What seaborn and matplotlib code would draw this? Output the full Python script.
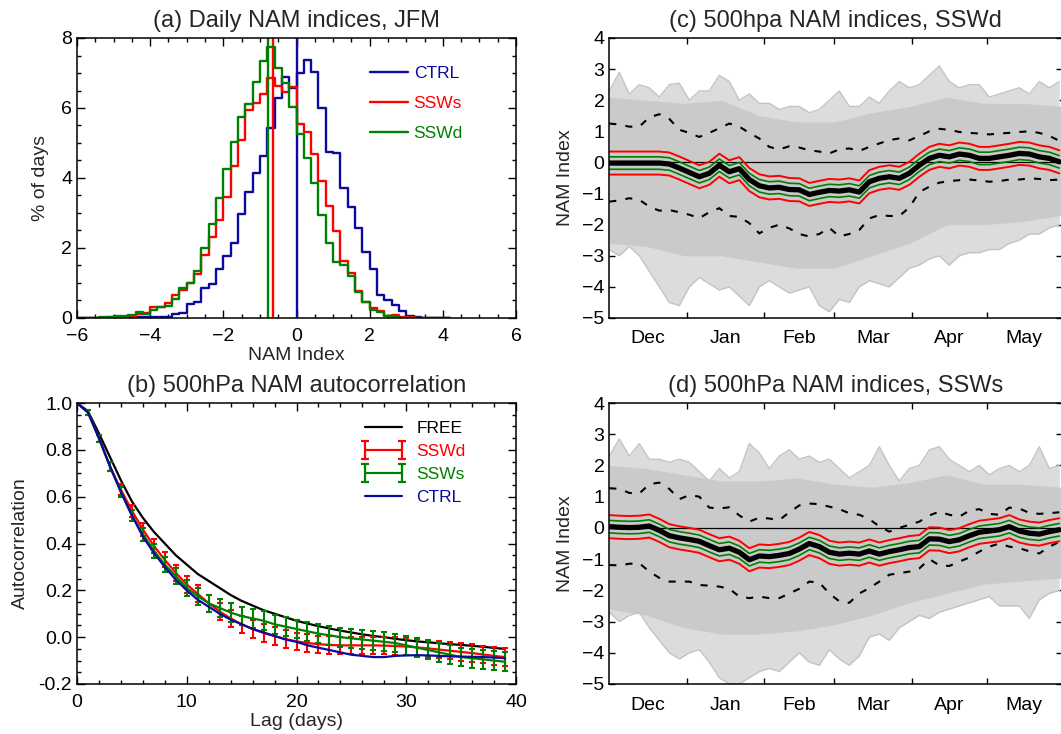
import numpy as np
import matplotlib
matplotlib.use("Agg")
import matplotlib.pyplot as plt
from matplotlib.path import Path
from matplotlib.lines import Line2D
from matplotlib.ticker import MultipleLocator
import seaborn as sns


# (a) histogram of daily NAM index, JFM, % of days per 0.2 bin (-6.0 .. 4.2)
bin_edges = [round(v, 1) for v in np.linspace(-6.0, 4.2, 52)]
ctrl_hist = [0, 0, 0, 0, 0, 0, 0, 0.01, 0.02, 0.02,
             0.03, 0.03, 0.04, 0.11, 0.14, 0.4, 0.45, 0.85, 0.98, 1.4,
             1.76, 2.14, 2.97, 3.6, 4.13, 4.63, 5.42, 6.3, 6.9, 6.58,
             7.0, 7.36, 7.03, 6.0, 4.75, 4.7, 3.7, 3.18, 2.57, 1.88,
             1.4, 0.67, 0.52, 0.38, 0.19, 0.07, 0.02, 0.01, 0, 0,
             0]
ssws_hist = [0, 0, 0.01, 0.01, 0.02, 0.02, 0.03, 0.05, 0.1, 0.15,
             0.3, 0.3, 0.42, 0.65, 0.8, 1.0, 1.25, 1.8, 2.3, 2.8,
             3.47, 4.35, 5.1, 5.94, 6.13, 6.4, 6.87, 6.62, 6.46, 6.6,
             5.54, 5.31, 4.68, 3.9, 3.2, 2.49, 1.64, 1.28, 0.78, 0.46,
             0.3, 0.2, 0.05, 0.1, 0.02, 0.02, 0.01, 0, 0, 0,
             0]
sswd_hist = [0, 0, 0.01, 0.02, 0.03, 0.05, 0.07, 0.08, 0.17, 0.12,
             0.22, 0.3, 0.35, 0.55, 0.87, 1.0, 1.35, 2.0, 2.68, 3.43,
             4.25, 5.02, 5.74, 6.1, 6.75, 7.33, 7.74, 7.15, 6.72, 6.02,
             5.25, 4.57, 3.85, 2.95, 2.15, 1.6, 1.5, 1.2, 0.75, 0.45,
             0.22, 0.18, 0.05, 0.03, 0.01, 0.01, 0.01, 0.01, 0.01, 0.01,
             0]
hist_means = {"CTRL": 0.0, "SSWs": -0.63, "SSWd": -0.79}

# (b) 500hPa NAM autocorrelation, lags 0..39 days
lags = list(range(40))
free_acf = [1.0, 0.965, 0.87, 0.77, 0.67, 0.58, 0.51, 0.45, 0.40, 0.35,
            0.31, 0.27, 0.24, 0.21, 0.18, 0.155, 0.135, 0.115, 0.10, 0.085,
            0.07, 0.058, 0.047, 0.037, 0.028, 0.02, 0.012, 0.005, 0.0, -0.007,
            -0.013, -0.018, -0.022, -0.026, -0.03, -0.033, -0.037, -0.041, -0.046, -0.05]
ctrl_acf = [1.0, 0.96, 0.85, 0.73, 0.62, 0.52, 0.43, 0.36, 0.30, 0.245,
            0.20, 0.16, 0.13, 0.10, 0.075, 0.055, 0.035, 0.02, 0.005, -0.01,
            -0.02, -0.035, -0.045, -0.055, -0.065, -0.075, -0.08, -0.085, -0.085, -0.08,
            -0.078, -0.077, -0.078, -0.08, -0.082, -0.083, -0.084, -0.085, -0.087, -0.09]
sswd_acf = [1.0, 0.96, 0.85, 0.73, 0.63, 0.54, 0.46, 0.39, 0.33, 0.275,
            0.225, 0.185, 0.145, 0.11, 0.08, 0.055, 0.035, 0.018, 0.005, -0.008,
            -0.018, -0.025, -0.03, -0.033, -0.035, -0.035, -0.035, -0.035, -0.036, -0.038,
            -0.04, -0.044, -0.048, -0.053, -0.058, -0.063, -0.068, -0.074, -0.08, -0.085]
ssws_acf = [1.0, 0.96, 0.85, 0.73, 0.62, 0.52, 0.44, 0.37, 0.31, 0.26,
            0.21, 0.175, 0.145, 0.125, 0.105, 0.09, 0.08, 0.07, 0.055, 0.045,
            0.035, 0.025, 0.015, 0.008, 0.0, -0.005, -0.01, -0.015, -0.02, -0.025,
            -0.035, -0.045, -0.055, -0.065, -0.075, -0.085, -0.09, -0.095, -0.1, -0.105]
sswd_err = [0.01, 0.015, 0.02, 0.022, 0.025, 0.028, 0.03, 0.032, 0.034, 0.035,
            0.036, 0.036, 0.037, 0.037, 0.037, 0.037, 0.037, 0.037, 0.037, 0.037,
            0.037, 0.037, 0.037, 0.037, 0.037, 0.037, 0.037, 0.037, 0.037, 0.037,
            0.037, 0.037, 0.037, 0.037, 0.037, 0.037, 0.037, 0.037, 0.037]
ssws_err = [0.01, 0.015, 0.02, 0.022, 0.025, 0.028, 0.03, 0.032, 0.034, 0.035,
            0.036, 0.037, 0.038, 0.039, 0.04, 0.04, 0.04, 0.04, 0.04, 0.04,
            0.04, 0.04, 0.04, 0.04, 0.04, 0.04, 0.04, 0.04, 0.04, 0.04,
            0.04, 0.04, 0.04, 0.04, 0.04, 0.04, 0.04, 0.04, 0.04]

# (c)/(d) NAM index through the season, days after 1 Dec, every 4 days
days = list(range(0, 181, 4))
days_coarse = [0, 15, 30, 45, 60, 75, 90, 105, 120, 135, 150, 165, 181]
month_starts = [31, 62, 90, 121, 151]
month_mids = [15.5, 46.5, 76, 105.5, 136, 166]
month_names = ["Dec", "Jan", "Feb", "Mar", "Apr", "May"]
ci95_half = 0.37
ci68_half = 0.2

mean_c = [-0.02, -0.02, -0.02, -0.02, -0.02, -0.02, -0.05, -0.18, -0.32, -0.46,
          -0.35, -0.09, -0.3, -0.2, -0.55, -0.75, -0.82, -0.8, -0.87, -0.88,
          -1.03, -0.96, -0.9, -0.92, -0.88, -0.95, -0.62, -0.51, -0.46, -0.51,
          -0.35, -0.09, 0.13, 0.23, 0.18, 0.27, 0.23, 0.13, 0.13, 0.18,
          0.23, 0.29, 0.27, 0.18, 0.13, 0.02]
upper_c = [1.25, 1.22, 1.15, 1.15, 1.45, 1.55, 1.4, 1.05, 0.95, 0.82,
           0.95, 1.1, 1.25, 1.15, 0.95, 0.77, 0.5, 0.42, 0.52, 0.48,
           0.39, 0.35, 0.29, 0.42, 0.45, 0.37, 0.5, 0.61, 0.72, 0.77,
           0.71, 0.85, 1.0, 1.08, 1.05, 0.98, 0.95, 0.93, 0.9, 0.93,
           0.95, 0.98, 1.0, 0.95, 0.85, 0.7]
lower_c = [-1.26, -1.22, -1.15, -1.2, -1.42, -1.55, -1.53, -1.6, -1.68, -1.79,
           -1.6, -1.47, -1.72, -1.75, -1.95, -2.28, -2.1, -2.0, -2.12, -2.3,
           -2.38, -2.3, -2.1, -2.38, -2.3, -2.17, -1.8, -1.69, -1.72, -1.72,
           -1.45, -0.95, -0.78, -0.65, -0.6, -0.57, -0.55, -0.58, -0.62, -0.6,
           -0.55, -0.55, -0.51, -0.53, -0.57, -0.55]
outer_top_c = [2.3, 2.9, 2.2, 2.5, 2.4, 2.1, 2.5, 2.55, 2.0, 2.3,
               2.3, 2.8, 2.6, 2.0, 2.2, 1.9, 1.9, 1.7, 1.8, 1.8,
               1.6, 1.7, 2.0, 2.3, 1.8, 1.8, 2.1, 1.9, 2.3, 2.6,
               2.4, 2.5, 2.8, 3.1, 2.6, 2.4, 2.5, 2.5, 2.1, 2.2,
               2.3, 2.4, 2.2, 2.6, 2.4, 2.6]
outer_bot_c = [-2.8, -3.0, -2.7, -3.0, -3.5, -4.0, -4.5, -4.6, -4.0, -3.7,
               -3.9, -4.1, -4.0, -4.3, -4.6, -4.0, -3.8, -4.0, -4.2, -4.1,
               -4.0, -4.6, -4.8, -4.4, -4.5, -4.0, -3.8, -3.9, -4.0, -3.7,
               -3.4, -3.3, -3.1, -3.0, -3.3, -3.0, -2.9, -2.9, -2.8, -2.8,
               -2.6, -2.5, -2.3, -2.3, -2.1, -2.0]
bulk_top_c = [2.1, 2.0, 1.9, 2.0, 1.5, 1.3, 1.3, 1.6, 1.8, 2.1, 1.9, 1.9, 1.8]
bulk_bot_c = [-2.6, -2.7, -3.0, -3.0, -3.2, -3.4, -3.4, -3.0, -2.6, -2.0, -2.0, -1.9, -1.7]

mean_d = [0.04, 0.02, 0.01, 0.02, 0.06, -0.08, -0.25, -0.32, -0.37, -0.43,
          -0.57, -0.7, -0.65, -0.78, -1.02, -0.9, -0.92, -0.88, -0.82, -0.68,
          -0.5, -0.6, -0.78, -0.84, -0.81, -0.84, -0.74, -0.84, -0.76, -0.7,
          -0.63, -0.6, -0.35, -0.36, -0.44, -0.38, -0.25, -0.14, -0.1, -0.06,
          0.04, -0.1, -0.17, -0.2, -0.12, -0.06]
upper_d = [1.27, 1.25, 1.12, 1.1, 1.4, 1.45, 1.25, 0.92, 1.05, 1.0,
           0.65, 0.62, 0.66, 0.4, 0.2, 0.33, 0.3, 0.25, 0.5, 0.72,
           0.78, 0.76, 0.68, 0.6, 0.47, 0.42, 0.28, 0.05, -0.12, 0.0,
           0.1, 0.2, 0.4, 0.52, 0.42, 0.36, 0.55, 0.6, 0.45, 0.42,
           0.65, 0.62, 0.48, 0.45, 0.47, 0.5]
lower_d = [-1.19, -1.2, -1.15, -1.13, -1.4, -1.6, -1.72, -1.72, -1.72, -1.83,
           -1.85, -1.88, -1.95, -2.2, -2.25, -2.2, -2.25, -2.25, -2.1, -1.95,
           -1.72, -1.75, -2.1, -2.35, -2.4, -2.1, -1.93, -1.72, -1.5, -1.45,
           -1.4, -1.3, -1.0, -1.2, -1.22, -1.08, -0.95, -0.76, -0.6, -0.5,
           -0.6, -0.65, -0.75, -0.82, -0.6, -0.45]
outer_top_d = [2.3, 2.85, 2.3, 2.7, 2.2, 2.2, 2.1, 2.2, 2.1, 1.8,
               1.5, 1.9, 1.6, 1.8, 2.7, 2.4, 1.9, 2.3, 2.5, 2.2,
               2.3, 2.1, 2.2, 1.9, 1.6, 1.8, 2.0, 2.6, 2.0, 1.5,
               1.9, 2.0, 2.5, 2.6, 2.2, 2.0, 1.8, 2.0, 1.7, 1.9,
               2.0, 1.8, 2.0, 2.6, 1.9, 2.0]
outer_bot_d = [-2.7, -3.0, -2.8, -2.7, -3.2, -3.6, -4.0, -4.2, -4.0, -3.9,
               -4.3, -4.8, -5.0, -5.0, -4.8, -4.6, -4.5, -4.6, -4.3, -4.0,
               -4.3, -4.4, -3.9, -4.2, -4.4, -4.1, -3.5, -3.4, -3.6, -3.2,
               -3.0, -2.8, -2.9, -2.7, -2.6, -2.5, -2.4, -2.3, -2.2, -2.5,
               -2.5, -2.5, -2.9, -2.3, -2.1, -2.0]
bulk_top_d = [2.0, 1.9, 1.7, 1.5, 1.5, 1.6, 1.4, 1.3, 1.45, 1.7, 1.4, 1.4, 1.3]
bulk_bot_d = [-2.6, -2.8, -3.2, -3.4, -3.4, -3.3, -3.1, -2.8, -2.4, -2.1, -1.8, -1.7, -1.6]


BLUE = "#0a0aa0"
RED = "#ff0000"
GREEN = "#008000"
GREY = "#c4c4c4"

sns.set_theme(style="ticks")
plt.rcParams["font.family"] = ["Liberation Sans", "DejaVu Sans"]
plt.rcParams["axes.linewidth"] = 1.1

TITLE_FS = 17
LABEL_FS = 14
LEG_FS = 12.5

W, H = 1061, 734
fig = plt.figure(figsize=(W / 100, H / 100), dpi=100)
ax_a = fig.add_axes([77 / W, (H - 318) / H, 439 / W, 280 / H])
ax_b = fig.add_axes([77 / W, (H - 684) / H, 439 / W, 281 / H])
ax_c = fig.add_axes([609.3 / W, (H - 318) / H, 452.5 / W, 280 / H])
ax_d = fig.add_axes([609.3 / W, (H - 684) / H, 452.5 / W, 281 / H])


def box_ticks(ax, major_len=5.5, minor_len=3):
    ax.tick_params(which="both", direction="in", top=True, right=True,
                   labelsize=LABEL_FS, colors="black", width=1.0)
    ax.tick_params(which="major", length=major_len)
    ax.tick_params(which="minor", length=minor_len)
    ax.tick_params(axis="x", pad=7)
    for s in ax.spines.values():
        s.set_color("black")


# ---- (a) histograms
bin_centers = [e + 0.1 for e in bin_edges[:-1]]
for vals, col, lab in [(ctrl_hist, BLUE, "CTRL"), (ssws_hist, RED, "SSWs"),
                       (sswd_hist, GREEN, "SSWd")]:
    sns.histplot(x=bin_centers, weights=vals, bins=bin_edges, element="step",
                 fill=False, color=col, linewidth=1.7, ax=ax_a)
    ax_a.axvline(hist_means[lab], color=col, lw=1.7)
ax_a.set_xlim(-6, 6)
ax_a.set_ylim(0, 8)
ax_a.xaxis.set_major_locator(MultipleLocator(2))
ax_a.xaxis.set_minor_locator(MultipleLocator(0.5))
ax_a.yaxis.set_major_locator(MultipleLocator(2))
ax_a.yaxis.set_minor_locator(MultipleLocator(0.5))
box_ticks(ax_a)
ax_a.set_xlabel("NAM Index", fontsize=LABEL_FS, labelpad=2)
ax_a.set_ylabel("% of days", fontsize=LABEL_FS, labelpad=9)
ax_a.set_title("(a) Daily NAM indices, JFM", fontsize=TITLE_FS, pad=8)
hist_handles = [Line2D([], [], color=c, lw=1.7) for c in (BLUE, RED, GREEN)]
ax_a.legend(hist_handles, ["CTRL", "SSWs", "SSWd"], loc="upper left",
            bbox_to_anchor=(0.668, 0.9), frameon=False, fontsize=LEG_FS,
            handlelength=2.2, handletextpad=0.3, labelspacing=0.85,
            borderpad=0, borderaxespad=0, labelcolor=[BLUE, RED, GREEN])

# ---- (b) autocorrelation
sns.lineplot(x=lags, y=free_acf, color="black", lw=1.6, ax=ax_b)
ax_b.errorbar(lags[1:], sswd_acf[1:], yerr=sswd_err, fmt="none", ecolor=RED,
              elinewidth=1.5, capsize=2.3, capthick=1.5)
sns.lineplot(x=lags, y=sswd_acf, color=RED, lw=1.6, ax=ax_b)
ax_b.errorbar(lags[1:], ssws_acf[1:], yerr=ssws_err, fmt="none", ecolor=GREEN,
              elinewidth=1.5, capsize=2.3, capthick=1.5)
sns.lineplot(x=lags, y=ssws_acf, color=GREEN, lw=1.6, ax=ax_b)
sns.lineplot(x=lags, y=ctrl_acf, color=BLUE, lw=1.6, ax=ax_b)
ax_b.set_xlim(0, 40)
ax_b.set_ylim(-0.2, 1.0)
ax_b.xaxis.set_major_locator(MultipleLocator(10))
ax_b.xaxis.set_minor_locator(MultipleLocator(2))
ax_b.yaxis.set_major_locator(MultipleLocator(0.2))
ax_b.yaxis.set_minor_locator(MultipleLocator(0.05))
ax_b.yaxis.set_major_formatter(matplotlib.ticker.FormatStrFormatter("%.1f"))
box_ticks(ax_b)
ax_b.set_xlabel("Lag (days)", fontsize=LABEL_FS, labelpad=2)
ax_b.set_ylabel("Autocorrelation", fontsize=LABEL_FS, labelpad=7)
ax_b.set_title("(b) 500hPa NAM autocorrelation", fontsize=TITLE_FS, pad=8)

cap = Path([(-0.45, -1), (0.45, -1), (0, -1), (0, 1), (-0.45, 1), (0.45, 1)],
           [Path.MOVETO, Path.LINETO, Path.MOVETO, Path.LINETO, Path.MOVETO, Path.LINETO])
acf_handles = [
    Line2D([], [], color="black", lw=1.6),
    Line2D([], [], color=RED, lw=1.6, marker=cap, markersize=13,
           markeredgewidth=1.6, markerfacecolor="none"),
    Line2D([], [], color=GREEN, lw=1.6, marker=cap, markersize=13,
           markeredgewidth=1.6, markerfacecolor="none"),
    Line2D([], [], color=BLUE, lw=1.6),
]
ax_b.legend(acf_handles, ["FREE", "SSWd", "SSWs", "CTRL"], loc="upper left",
            bbox_to_anchor=(0.645, 0.935), frameon=False, fontsize=LEG_FS,
            numpoints=2, handlelength=2.7, handletextpad=0.55, labelspacing=0.45,
            borderpad=0, borderaxespad=0, labelcolor=["black", RED, GREEN, BLUE])


# ---- (c), (d) seasonal NAM indices
def nam_panel(ax, mean, upper, lower, o_top, o_bot, b_top, b_bot, title):
    ax.fill_between(days, o_bot, o_top, color="#dcdcdc", lw=0)
    ax.fill_between(days_coarse, b_bot, b_top, color="#cacaca", lw=0)
    sns.lineplot(x=days, y=o_top, color=GREY, lw=1.0, ax=ax)
    sns.lineplot(x=days, y=o_bot, color=GREY, lw=1.0, ax=ax)
    ax.axhline(0, color="black", lw=0.9)
    for env in (upper, lower):
        sns.lineplot(x=days, y=env, color="black", lw=1.5,
                     linestyle=(0, (3.4, 4.4)), ax=ax)
    m = np.array(mean)
    for sign in (1, -1):
        sns.lineplot(x=days, y=m + sign * ci95_half, color=RED, lw=1.4, ax=ax)
        sns.lineplot(x=days, y=m + sign * ci68_half, color=GREEN, lw=1.2, ax=ax)
    sns.lineplot(x=days, y=m, color="black", lw=3.8, ax=ax)
    ax.set_xlim(0, 181)
    ax.set_ylim(-5, 4)
    ax.set_yticks(range(-5, 5))
    ax.set_xticks(month_starts)
    ax.set_xticklabels([])
    ax.set_xticks(month_mids, minor=True)
    ax.set_xticklabels(month_names, minor=True)
    box_ticks(ax, major_len=4, minor_len=0)
    ax.tick_params(axis="x", which="minor", pad=9)
    ax.set_xlabel("")
    ax.set_ylabel("NAM Index", fontsize=LABEL_FS, labelpad=6)
    ax.set_title(title, fontsize=TITLE_FS, pad=8)


nam_panel(ax_c, mean_c, upper_c, lower_c, outer_top_c, outer_bot_c,
          bulk_top_c, bulk_bot_c, "(c) 500hpa NAM indices, SSWd")
nam_panel(ax_d, mean_d, upper_d, lower_d, outer_top_d, outer_bot_d,
          bulk_top_d, bulk_bot_d, "(d) 500hPa NAM indices, SSWs")

fig.savefig("out.png", dpi=100)
